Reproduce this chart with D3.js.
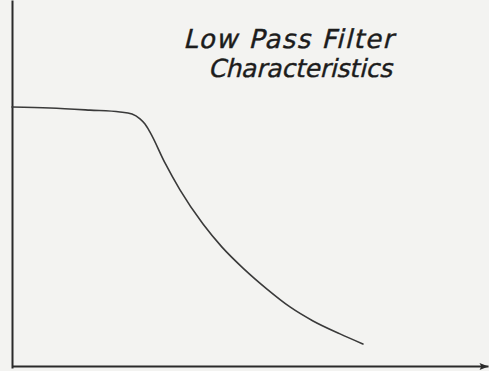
<!DOCTYPE html>
<html>
<head>
<meta charset="utf-8">
<script src="https://cdn.jsdelivr.net/npm/d3@7"></script>
<style>
  html, body { margin: 0; padding: 0; background: #f3f3f1; }
  svg { display: block; }
</style>
</head>
<body>
<svg id="chart" width="489" height="371"></svg>
<script>
// Relative frequency (percent of axis span) and relative gain of the filter response
const frequency = [0, 7.98, 16.39, 22.69, 25.21, 26.89, 27.94, 28.99, 32.14, 35.29, 40.13, 44.12, 48.53, 53.57, 58.40, 63.24, 68.91, 73.74];
const gain      = [1.000, 0.996, 0.988, 0.981, 0.973, 0.954, 0.934, 0.903, 0.784, 0.680, 0.548, 0.459, 0.378, 0.297, 0.228, 0.174, 0.124, 0.085];
const titleLines = ["Low Pass Filter", "Characteristics"];

const svg = d3.select("#chart");
const W = 489;
const margin = { left: 12, right: 1 };

const x = d3.scaleLinear().domain([0, 100]).range([margin.left, W - margin.right]);
const y = d3.scaleLinear().domain([0, 1]).range([366, 107]);

const ink = "#2a2a2a";

// Arrowhead for the frequency axis
svg.append("defs").append("marker")
  .attr("id", "arrow")
  .attr("viewBox", "0 0 10 10")
  .attr("refX", 10).attr("refY", 5)
  .attr("markerWidth", 9).attr("markerHeight", 4.5)
  .attr("markerUnits", "strokeWidth")
  .attr("orient", "auto")
  .append("path")
  .attr("d", "M0,1 L10,5 L0,9 L2,5 Z")
  .attr("fill", ink);

// Frequency axis (no ticks)
const xAxis = svg.append("g")
  .attr("transform", `translate(0,${y(0)})`)
  .call(d3.axisBottom(x).tickValues([]).tickSizeOuter(0));
xAxis.select(".domain")
  .attr("stroke", ink).attr("stroke-width", 2)
  .attr("marker-end", "url(#arrow)");

// Gain axis (no ticks), running off the top edge
const yAxisScale = d3.scaleLinear().domain([0, 1]).range([y(0) + 2, 0]);
const yAxis = svg.append("g")
  .attr("transform", `translate(${x(0)},0)`)
  .call(d3.axisLeft(yAxisScale).tickValues([]).tickSizeOuter(0));
yAxis.select(".domain").attr("stroke", ink).attr("stroke-width", 2);

// Response curve
const pts = frequency.map((f, i) => [f, gain[i]]);
const line = d3.line()
  .x(d => x(d[0]))
  .y(d => y(d[1]))
  .curve(d3.curveMonotoneX);

svg.append("path")
  .datum(pts)
  .attr("d", line)
  .attr("fill", "none")
  .attr("stroke", "#3a3a3a")
  .attr("stroke-width", 1.6)
  .attr("stroke-linecap", "round");

// Hand-lettered title, slanted like drafting script
const title = svg.append("g")
  .attr("font-family", "'DejaVu Sans', sans-serif")
  .attr("fill", "#1c1c1c")
  .attr("stroke", "#1c1c1c")
  .attr("stroke-width", 0.4);

title.append("text")
  .attr("transform", "translate(183,48) skewX(-14)")
  .attr("font-size", 26)
  .attr("textLength", 210)
  .attr("lengthAdjust", "spacing")
  .text(titleLines[0]);

title.append("text")
  .attr("transform", "translate(208,77) skewX(-14)")
  .attr("font-size", 25)
  .attr("textLength", 184)
  .attr("lengthAdjust", "spacing")
  .text(titleLines[1]);
</script>
</body>
</html>
